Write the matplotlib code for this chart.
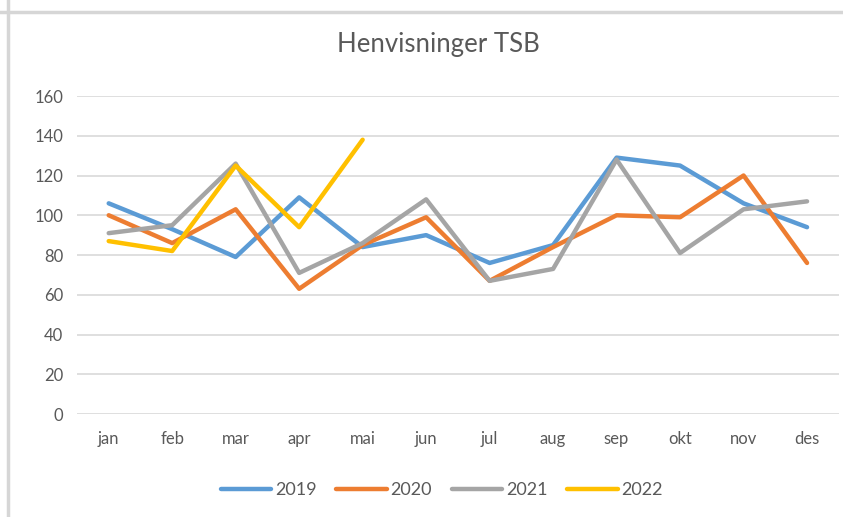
import numpy as np
import matplotlib
matplotlib.use('Agg')
from matplotlib import pyplot as plt
from matplotlib.lines import Line2D

months = ['jan', 'feb', 'mar', 'apr', 'mai', 'jun', 'jul', 'aug', 'sep', 'okt', 'nov', 'des']
y2019 = [106, 93, 79, 109, 84, 90, 76, 85, 129, 125, 106, 94]
y2020 = [100, 86, 103, 63, 85, 99, 67, 84, 100, 99, 120, 76]
y2021 = [91, 95, 126, 71, 86, 108, 67, 73, 128, 81, 103, 107]
y2022 = [87, 82, 125, 94, 138]
yticks = [0, 20, 40, 60, 80, 100, 120, 140, 160]

series = [('2019', y2019, '#5B9BD5'),
          ('2020', y2020, '#ED7D31'),
          ('2021', y2021, '#A5A5A5'),
          ('2022', y2022, '#FFC000')]

plt.rcParams['font.family'] = ['Lato', 'DejaVu Sans']
text_col = '#595959'

fig = plt.figure(figsize=(8.43, 5.17), dpi=100)
ax = fig.add_axes([0.0913, 0.1992, 0.9037, 0.6151])

x = np.arange(len(months))
for name, vals, col in series:
    ax.plot(x[:len(vals)], vals, color=col, linewidth=3.2, label=name,
            solid_capstyle='round', solid_joinstyle='round')

ax.set_xlim(-0.5, len(months) - 0.5)
ax.set_ylim(0, 160)
ax.set_yticks(yticks)
ax.set_xticks(x)
ax.set_xticklabels(months)
ax.grid(axis='y', color='#D9D9D9', linewidth=1.2)
ax.set_axisbelow(True)
for s in ax.spines.values():
    s.set_visible(False)
ax.tick_params(length=0, labelsize=12, colors=text_col, pad=12)
ax.tick_params(axis='y', pad=10)

fig.text(0.52, 0.913, 'Henvisninger TSB', ha='center', va='center',
         fontsize=18.5, color=text_col)

handles = [Line2D([0], [0], color=c, linewidth=3.2, solid_capstyle='round') for _, _, c in series]
fig.legend(handles, [n for n, _, _ in series], loc='center', bbox_to_anchor=(0.524, 0.052),
           ncol=4, frameon=False, fontsize=13, labelcolor=text_col,
           handlelength=2.8, handletextpad=0.2, columnspacing=1.1)

# frame lines from the screenshot
fig.add_artist(Line2D([0, 1], [1 - 12 / 517, 1 - 12 / 517], color='#D6D6D6', linewidth=2.5))
fig.add_artist(Line2D([8 / 843, 8 / 843], [0, 1], color='#D6D6D6', linewidth=2.5))

fig.savefig('out.png', dpi=100)
